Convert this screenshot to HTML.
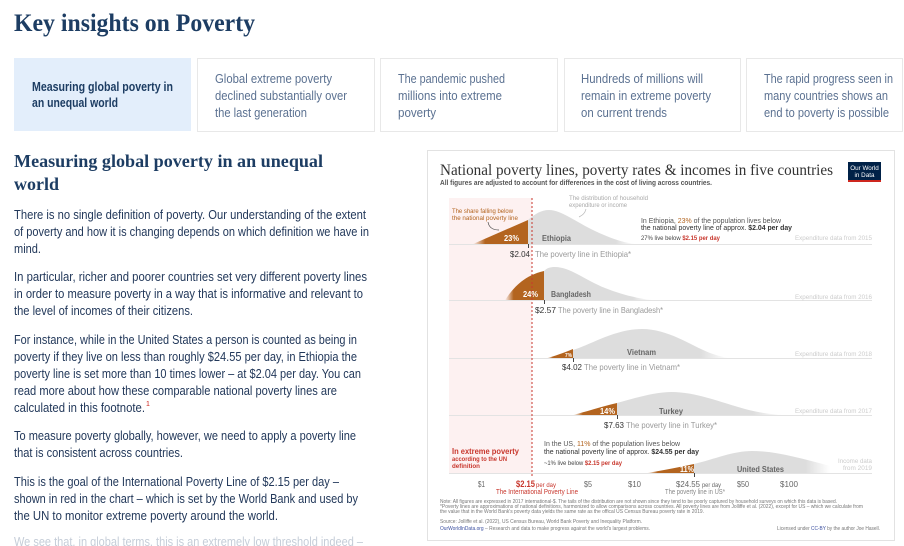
<!DOCTYPE html>
<html><head><meta charset="utf-8"><style>
html,body{margin:0;padding:0;background:#fff;width:904px;height:546px;overflow:hidden}
svg{display:block;font-family:"Liberation Sans",sans-serif}
.serif{font-family:"Liberation Serif",serif}
</style></head><body>
<svg width="904" height="546" viewBox="0 0 904 546" xmlns="http://www.w3.org/2000/svg">
<defs>
<linearGradient id="of" x1="0" x2="1" y1="0" y2="0"><stop offset="0" stop-color="#b3641f" stop-opacity="0"/><stop offset="0.22" stop-color="#b3641f" stop-opacity="1"/></linearGradient>
<linearGradient id="gf" x1="0" x2="1" y1="0" y2="0"><stop offset="0" stop-color="#dddddd"/><stop offset="0.82" stop-color="#dddddd"/><stop offset="1" stop-color="#dddddd" stop-opacity="0"/></linearGradient>
</defs>

<!-- Page title -->
<text class="serif" x="14" y="31" font-size="25" font-weight="bold" fill="#1d3d63" textLength="241" lengthAdjust="spacingAndGlyphs">Key insights on Poverty</text>

<!-- Tabs -->
<rect x="14" y="58" width="177" height="73" fill="#e3eefb"/>
<rect x="197.5" y="58.5" width="177" height="73" fill="#fff" stroke="#e8e8e8"/>
<rect x="380.5" y="58.5" width="177" height="73" fill="#fff" stroke="#e8e8e8"/>
<rect x="564.5" y="58.5" width="176" height="73" fill="#fff" stroke="#e8e8e8"/>
<rect x="746.5" y="58.5" width="156" height="73" fill="#fff" stroke="#e8e8e8"/>
<g font-size="12.5" font-weight="bold" fill="#1d3d63">
<text x="32" y="91" textLength="141" lengthAdjust="spacingAndGlyphs">Measuring global poverty in</text>
<text x="32" y="107" textLength="86" lengthAdjust="spacingAndGlyphs">an unequal world</text>
</g>
<g font-size="12.5" fill="#5b7191">
<text x="215" y="83" textLength="117" lengthAdjust="spacingAndGlyphs">Global extreme poverty</text>
<text x="215" y="100" textLength="132" lengthAdjust="spacingAndGlyphs">declined substantially over</text>
<text x="215" y="117" textLength="92" lengthAdjust="spacingAndGlyphs">the last generation</text>
<text x="398" y="83" textLength="107" lengthAdjust="spacingAndGlyphs">The pandemic pushed</text>
<text x="398" y="100" textLength="104" lengthAdjust="spacingAndGlyphs">millions into extreme</text>
<text x="398" y="117" textLength="38" lengthAdjust="spacingAndGlyphs">poverty</text>
<text x="581" y="83" textLength="122" lengthAdjust="spacingAndGlyphs">Hundreds of millions will</text>
<text x="581" y="100" textLength="130" lengthAdjust="spacingAndGlyphs">remain in extreme poverty</text>
<text x="581" y="117" textLength="86" lengthAdjust="spacingAndGlyphs">on current trends</text>
<text x="764" y="83" textLength="129" lengthAdjust="spacingAndGlyphs">The rapid progress seen in</text>
<text x="764" y="100" textLength="124" lengthAdjust="spacingAndGlyphs">many countries shows an</text>
<text x="764" y="117" textLength="125" lengthAdjust="spacingAndGlyphs">end to poverty is possible</text>
</g>

<!-- Left heading -->
<g class="serif" font-size="18" font-weight="bold" fill="#1d3d63">
<text x="14" y="167" textLength="309" lengthAdjust="spacingAndGlyphs">Measuring global poverty in an unequal</text>
<text x="14" y="190" textLength="45" lengthAdjust="spacingAndGlyphs">world</text>
</g>

<!-- Body text -->
<g font-size="12.5" fill="#22385a">
<text x="14" y="219" textLength="352" lengthAdjust="spacingAndGlyphs">There is no single definition of poverty. Our understanding of the extent</text>
<text x="14" y="236" textLength="355" lengthAdjust="spacingAndGlyphs">of poverty and how it is changing depends on which definition we have in</text>
<text x="14" y="253" textLength="27" lengthAdjust="spacingAndGlyphs">mind.</text>
<text x="14" y="281" textLength="353" lengthAdjust="spacingAndGlyphs">In particular, richer and poorer countries set very different poverty lines</text>
<text x="14" y="298" textLength="349" lengthAdjust="spacingAndGlyphs">in order to measure poverty in a way that is informative and relevant to</text>
<text x="14" y="315" textLength="179" lengthAdjust="spacingAndGlyphs">the level of incomes of their citizens.</text>
<text x="14" y="344" textLength="343" lengthAdjust="spacingAndGlyphs">For instance, while in the United States a person is counted as being in</text>
<text x="14" y="361" textLength="343" lengthAdjust="spacingAndGlyphs">poverty if they live on less than roughly $24.55 per day, in Ethiopia the</text>
<text x="14" y="378" textLength="347" lengthAdjust="spacingAndGlyphs">poverty line is set more than 10 times lower – at $2.04 per day. You can</text>
<text x="14" y="395" textLength="323" lengthAdjust="spacingAndGlyphs">read more about how these comparable national poverty lines are</text>
<text x="14" y="412" textLength="131" lengthAdjust="spacingAndGlyphs">calculated in this footnote.</text>
<text x="14" y="440" textLength="342" lengthAdjust="spacingAndGlyphs">To measure poverty globally, however, we need to apply a poverty line</text>
<text x="14" y="457" textLength="169" lengthAdjust="spacingAndGlyphs">that is consistent across countries.</text>
<text x="14" y="486" textLength="325" lengthAdjust="spacingAndGlyphs">This is the goal of the International Poverty Line of $2.15 per day –</text>
<text x="14" y="503" textLength="344" lengthAdjust="spacingAndGlyphs">shown in red in the chart – which is set by the World Bank and used by</text>
<text x="14" y="520" textLength="264" lengthAdjust="spacingAndGlyphs">the UN to monitor extreme poverty around the world.</text>
</g>
<text x="146" y="406" font-size="7" fill="#ce261e">1</text>
<text x="14" y="546" font-size="12.5" fill="#c5cdd8" textLength="349" lengthAdjust="spacingAndGlyphs">We see that, in global terms, this is an extremely low threshold indeed –</text>

<!-- Chart card -->
<rect x="427.5" y="150.5" width="467" height="390" fill="#fff" stroke="#e2e2e2"/>
<text class="serif" x="440" y="175" font-size="15.5" fill="#333" textLength="393" lengthAdjust="spacingAndGlyphs">National poverty lines, poverty rates &amp; incomes in five countries</text>
<text x="440" y="185" font-size="7" font-weight="bold" fill="#555" textLength="272" lengthAdjust="spacingAndGlyphs">All figures are adjusted to account for differences in the cost of living across countries.</text>
<rect x="848" y="162" width="33" height="20" fill="#002147"/>
<rect x="848" y="180" width="33" height="2" fill="#ce261e"/>
<text x="864.5" y="170" font-size="6.3" fill="#fff" text-anchor="middle">Our World</text>
<text x="864.5" y="177" font-size="6.3" fill="#fff" text-anchor="middle">in Data</text>

<!-- pink region -->
<rect x="449" y="198" width="83" height="275" fill="#fdf1f1"/>

<!-- baselines -->
<g stroke="#e3e3e3" stroke-width="1">
<line x1="449" y1="244.5" x2="872" y2="244.5"/>
<line x1="449" y1="300.5" x2="872" y2="300.5"/>
<line x1="449" y1="358.5" x2="872" y2="358.5"/>
<line x1="449" y1="415.5" x2="872" y2="415.5"/>
<line x1="449" y1="473.5" x2="872" y2="473.5"/>
</g>

<!-- distributions -->
<path d="M528,244 L528,220 C535,214 541,210 549,210 C561,210 576,222 595,231 C608,237 620,242 635,244 Z" fill="url(#gf)"/>
<path d="M473,244 L528,220 L528,244 Z" fill="url(#of)"/>
<path d="M544,300 L544,271 C547,268 550,267 555,267 C570,267 585,280 605,288 C620,294 635,298 652,300 Z" fill="url(#gf)"/>
<path d="M505,300 C512,290 522,276 544,271 L544,300 Z" fill="url(#of)"/>
<path d="M573,358 L573,350 C590,345 615,329 642,329 C668,329 690,345 710,353 C718,356 724,357 728,358 Z" fill="url(#gf)"/>
<path d="M547,358 C555,356 563,353 573,349 L573,358 Z" fill="url(#of)"/>
<path d="M617,415 L617,403 C635,398 655,392 672,392 C695,392 720,402 745,409 C760,413 770,414 783,415 Z" fill="url(#gf)"/>
<path d="M573,415 C585,412 600,407 617,403 L617,415 Z" fill="url(#of)"/>
<path d="M694,473 L694,464 C715,459 733,451 752,451 C775,451 800,458 830,466 L830,473 Z" fill="url(#gf)"/>
<path d="M647,473 C665,470 680,467 694,464 L694,473 Z" fill="url(#of)"/>

<!-- dashed IPL line -->
<line x1="532" y1="198" x2="532" y2="478" stroke="#c8372d" stroke-width="1" stroke-dasharray="2,2"/>

<!-- ticks -->
<g stroke="#444" stroke-width="1">
<line x1="528.5" y1="244" x2="528.5" y2="248"/>
<line x1="544.5" y1="300" x2="544.5" y2="304"/>
<line x1="573.5" y1="358" x2="573.5" y2="362"/>
<line x1="617.5" y1="415" x2="617.5" y2="419"/>
<line x1="694.5" y1="473" x2="694.5" y2="477"/>
</g>

<!-- labels in shapes -->
<g font-size="8.5" font-weight="bold">
<text x="504" y="241" fill="#fff" textLength="15" lengthAdjust="spacingAndGlyphs">23%</text>
<text x="542" y="241" fill="#666" textLength="29" lengthAdjust="spacingAndGlyphs">Ethiopia</text>
<text x="523" y="297" fill="#fff" textLength="15" lengthAdjust="spacingAndGlyphs">24%</text>
<text x="551" y="297" fill="#666" textLength="40" lengthAdjust="spacingAndGlyphs">Bangladesh</text>
<text x="627" y="355" fill="#666" textLength="29" lengthAdjust="spacingAndGlyphs">Vietnam</text>
<text x="600" y="414" fill="#fff" textLength="15" lengthAdjust="spacingAndGlyphs">14%</text>
<text x="659" y="414" fill="#666" textLength="24" lengthAdjust="spacingAndGlyphs">Turkey</text>
<text x="680" y="472" fill="#fff" textLength="14" lengthAdjust="spacingAndGlyphs">11%</text>
<text x="737" y="472" fill="#666" textLength="47" lengthAdjust="spacingAndGlyphs">United States</text>
</g>
<text x="565" y="357" font-size="5.5" font-weight="bold" fill="#fff" textLength="7" lengthAdjust="spacingAndGlyphs">7%</text>

<!-- poverty line labels -->
<g font-size="8.5">
<text x="510" y="257" fill="#333" textLength="20" lengthAdjust="spacingAndGlyphs">$2.04</text>
<text x="535" y="257" fill="#999" textLength="96" lengthAdjust="spacingAndGlyphs">The poverty line in Ethiopia*</text>
<text x="535" y="313" fill="#333" textLength="21" lengthAdjust="spacingAndGlyphs">$2.57</text>
<text x="558" y="313" fill="#999" textLength="105" lengthAdjust="spacingAndGlyphs">The poverty line in Bangladesh*</text>
<text x="562" y="370" fill="#333" textLength="20" lengthAdjust="spacingAndGlyphs">$4.02</text>
<text x="584" y="370" fill="#999" textLength="96" lengthAdjust="spacingAndGlyphs">The poverty line in Vietnam*</text>
<text x="604" y="428" fill="#333" textLength="20" lengthAdjust="spacingAndGlyphs">$7.63</text>
<text x="626" y="428" fill="#999" textLength="91" lengthAdjust="spacingAndGlyphs">The poverty line in Turkey*</text>
</g>

<!-- data source labels -->
<g font-size="6.5" fill="#cccccc">
<text x="795" y="240" textLength="77" lengthAdjust="spacingAndGlyphs">Expenditure data from 2015</text>
<text x="795" y="299" textLength="77" lengthAdjust="spacingAndGlyphs">Expenditure data from 2016</text>
<text x="795" y="356" textLength="77" lengthAdjust="spacingAndGlyphs">Expenditure data from 2018</text>
<text x="795" y="413" textLength="77" lengthAdjust="spacingAndGlyphs">Expenditure data from 2017</text>
<text x="838" y="463" textLength="34" lengthAdjust="spacingAndGlyphs">Income data</text>
<text x="843" y="470" textLength="29" lengthAdjust="spacingAndGlyphs">from 2019</text>
</g>

<!-- Ethiopia annotation -->
<text x="641" y="223" font-size="7" fill="#555" textLength="140" lengthAdjust="spacingAndGlyphs">In Ethiopia, <tspan fill="#b3641f">23%</tspan> of the population lives below</text>
<text x="641" y="230" font-size="7" fill="#333" textLength="151" lengthAdjust="spacingAndGlyphs">the national poverty line of approx. <tspan font-weight="bold">$2.04 per day</tspan></text>
<text x="641" y="240" font-size="6" fill="#444" textLength="79" lengthAdjust="spacingAndGlyphs">27% live below <tspan fill="#c8372d" font-weight="bold">$2.15 per day</tspan></text>

<g font-size="6.5" fill="#b3641f">
<text x="452" y="213" textLength="61" lengthAdjust="spacingAndGlyphs">The share falling below</text>
<text x="452" y="220" textLength="66" lengthAdjust="spacingAndGlyphs">the national poverty line</text>
</g>
<path d="M488,222 C489,228 493,230 499,230" fill="none" stroke="#444" stroke-width="0.7"/>

<g font-size="6.5" fill="#aaaaaa">
<text x="569" y="200" textLength="79" lengthAdjust="spacingAndGlyphs">The distribution of household</text>
<text x="569" y="207" textLength="58" lengthAdjust="spacingAndGlyphs">expenditure or income</text>
</g>
<path d="M586,209 C585,213 583,215 579,217" fill="none" stroke="#bbb" stroke-width="0.7"/>

<!-- US annotation -->
<text x="544" y="446" font-size="7" fill="#555" textLength="136" lengthAdjust="spacingAndGlyphs">In the US, <tspan fill="#b3641f">11%</tspan> of the population lives below</text>
<text x="544" y="454" font-size="7" fill="#333" textLength="155" lengthAdjust="spacingAndGlyphs">the national poverty line of approx. <tspan font-weight="bold">$24.55 per day</tspan></text>
<text x="544" y="465" font-size="6" fill="#444" textLength="78" lengthAdjust="spacingAndGlyphs">~1% live below <tspan fill="#c8372d" font-weight="bold">$2.15 per day</tspan></text>

<text x="452" y="454" font-size="8" font-weight="bold" fill="#c8372d" textLength="67" lengthAdjust="spacingAndGlyphs">In extreme poverty</text>
<text x="452" y="461" font-size="6.3" font-weight="bold" fill="#c8372d" textLength="55" lengthAdjust="spacingAndGlyphs">according to the UN</text>
<text x="452" y="468" font-size="6.3" font-weight="bold" fill="#c8372d" textLength="28" lengthAdjust="spacingAndGlyphs">definition</text>

<!-- x axis -->
<g font-size="8.5" fill="#666">
<text x="478" y="487" textLength="7" lengthAdjust="spacingAndGlyphs">$1</text>
<text x="584" y="487" textLength="8" lengthAdjust="spacingAndGlyphs">$5</text>
<text x="628" y="487" textLength="13" lengthAdjust="spacingAndGlyphs">$10</text>
<text x="676" y="487" textLength="24" lengthAdjust="spacingAndGlyphs">$24.55</text>
<text x="737" y="487" textLength="12" lengthAdjust="spacingAndGlyphs">$50</text>
<text x="780" y="487" textLength="18" lengthAdjust="spacingAndGlyphs">$100</text>
</g>
<text x="702" y="487" font-size="6.5" fill="#666" textLength="19" lengthAdjust="spacingAndGlyphs">per day</text>
<text x="516" y="487" font-size="9.5" font-weight="bold" fill="#c8372d" textLength="19" lengthAdjust="spacingAndGlyphs">$2.15</text>
<text x="536" y="487" font-size="6.5" fill="#c8372d" textLength="20" lengthAdjust="spacingAndGlyphs">per day</text>
<text x="496" y="494" font-size="7" fill="#c8372d" textLength="82" lengthAdjust="spacingAndGlyphs">The International Poverty Line</text>
<text x="665" y="494" font-size="7" fill="#888" textLength="60" lengthAdjust="spacingAndGlyphs">The poverty line in US*</text>

<!-- notes -->
<g font-size="5" fill="#777">
<text x="440" y="503" textLength="397" lengthAdjust="spacingAndGlyphs">Note: All figures are expressed in 2017 international-$. The tails of the distribution are not shown since they tend to be poorly captured by household surveys on which this data is based.</text>
<text x="440" y="508" textLength="423" lengthAdjust="spacingAndGlyphs">*Poverty lines are approximations of national definitions, harmonized to allow comparisons across countries. All poverty lines are from Jolliffe et al. (2022), except for US – which we calculate from</text>
<text x="440" y="513" textLength="264" lengthAdjust="spacingAndGlyphs">the value that in the World Bank's poverty data yields the same rate as the offical US Census Bureau poverty rate in 2019.</text>
<text x="440" y="523" textLength="202" lengthAdjust="spacingAndGlyphs">Source: Jolliffe et al. (2022), US Census Bureau, World Bank Poverty and Inequality Platform.</text>
<text x="440" y="530" textLength="210" lengthAdjust="spacingAndGlyphs"><tspan fill="#3b4fa0">OurWorldInData.org</tspan> – Research and data to make progress against the world's largest problems.</text>
<text x="777" y="530" textLength="103" lengthAdjust="spacingAndGlyphs">Licensed under <tspan fill="#3b4fa0">CC-BY</tspan> by the author Joe Hasell.</text>
</g>
</svg>
</body></html>
